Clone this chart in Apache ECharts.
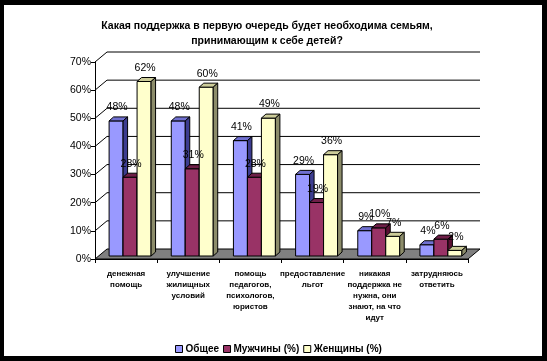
<!DOCTYPE html>
<html><head><meta charset="utf-8">
<script src="https://cdn.jsdelivr.net/npm/echarts@6/dist/echarts.min.js"></script>
<style>html,body{margin:0;padding:0;background:#000;}#c{width:547px;height:361px;}</style>
</head><body><div id="c"></div>
<script>
var categories = ['денежная\nпомощь','улучшение\nжилищных\nусловий','помощь\nпедагогов,\nпсихологов,\nюристов','предоставление\nльгот','никакая\nподдержка не\nнужна, они\nзнают, на что\nидут','затрудняюсь\nответить'];
var seriesNames = ['Общее','Мужчины (%)','Женщины (%)'];
var general = [48,48,41,29,9,4];
var men = [28,31,28,19,10,6];
var women = [62,60,49,36,7,2];
var yTicks = [0,10,20,30,40,50,60,70];

var FONT = "'Liberation Sans',Arial,sans-serif";
var faces = [
  {front:'#9999FF', top:'#7070D0', side:'#3C3C90'},
  {front:'#993366', top:'#6E1F48', side:'#5A1033'},
  {front:'#FFFFCC', top:'#CCCC99', side:'#8C8C6A'}
];
var WX = 12, WY = -10;      // wall depth
var BX = 4.5, BY = -4;      // bar depth
var SX = 4, SY = -3;        // bar plane shift

function barRender(si){
  return function(params, api){
    var cat = api.value(0), v = api.value(1);
    var base = api.coord([cat, 0]);
    var top = api.coord([cat, v]);
    var cw = api.size([1, 0])[0];
    var bw = cw * 0.225;
    var l = base[0] - 1.5 * bw + si * bw + SX;
    var y0 = base[1] + SY, y1 = top[1] + SY;
    var f = faces[si];
    var st = {stroke:'#000', lineWidth:1};
    return {type:'group', children:[
      {type:'rect', shape:{x:l, y:y1, width:bw, height:y0 - y1}, style:Object.assign({fill:f.front}, st)},
      {type:'polygon', shape:{points:[[l,y1],[l+BX,y1+BY],[l+bw+BX,y1+BY],[l+bw,y1]]}, style:Object.assign({fill:f.top}, st)},
      {type:'polygon', shape:{points:[[l+bw,y1],[l+bw+BX,y1+BY],[l+bw+BX,y0+BY],[l+bw,y0]]}, style:Object.assign({fill:f.side}, st)},
      {type:'text', z2:100, style:{text:v + '%', x:l + bw/2 + 1, y:y1 + BY - 4, align:'center', verticalAlign:'bottom', font:'10.5px ' + FONT, fill:'#000'}}
    ]};
  };
}

function wallRender(params, api){
  var cs = params.coordSys;
  var v = api.value(0);
  var y = api.coord([0, v])[1];
  var x0 = cs.x, x1 = cs.x + cs.width;
  if (v === 0) {
    return {type:'polygon', shape:{points:[[x0,y],[x0+WX,y+WY],[x1+WX,y+WY],[x1,y]]}, style:{fill:'#808080', stroke:'#000', lineWidth:1}};
  }
  return {type:'polyline', shape:{points:[[x0,y],[x0+WX,y+WY],[x1+WX,y+WY]]}, style:{fill:null, stroke:'#000', lineWidth:1}};
}

var series = [{
  type:'custom', name:'wall', z:1, renderItem:wallRender, data:yTicks.map(function(t){return [t];}),
  encode:{y:0}, silent:true
}];
[general, men, women].forEach(function(arr, si){
  series.push({type:'custom', name:seriesNames[si], z:2, itemStyle:{color:faces[si].front},
    renderItem:barRender(si), data:arr.map(function(v,i){return [i,v];}), encode:{x:0,y:1}});
});

var chart = echarts.init(document.getElementById('c'), null, {renderer:'canvas'});
chart.setOption({
  backgroundColor:'#000',
  animation:false,
  graphic:[{type:'rect', z:-100, shape:{x:4, y:5, width:538, height:351}, style:{fill:'#fff'}}],
  title:{text:'Какая поддержка в первую очередь будет необходима семьям,\nпринимающим к себе детей?', left:262, top:14, textAlign:'center',
    textStyle:{fontSize:10.5, fontWeight:'bold', fontFamily:FONT, lineHeight:15, color:'#000'}},
  legend:{data:seriesNames, left:170, top:339, icon:'rect', itemWidth:7, itemHeight:7, itemGap:4,
    itemStyle:{borderColor:'#000', borderWidth:1},
    textStyle:{fontSize:10, fontWeight:'bold', fontFamily:FONT, color:'#000', padding:[0,0,0,-2]}},
  grid:{left:95, right:79, top:62, bottom:102, containLabel:false},
  xAxis:{type:'category', data:categories, boundaryGap:true,
    axisLine:{lineStyle:{color:'#000'}}, axisTick:{show:true, length:4, lineStyle:{color:'#000'}},
    splitLine:{show:false},
    axisLabel:{interval:0, fontSize:8, fontWeight:'bold', fontFamily:FONT, lineHeight:11, margin:9, color:'#000'}},
  yAxis:{type:'value', min:0, max:70, interval:10,
    axisLine:{show:true, lineStyle:{color:'#000'}}, axisTick:{show:true, length:4, lineStyle:{color:'#000'}},
    splitLine:{show:false},
    axisLabel:{formatter:'{value}%', fontSize:10.5, fontFamily:FONT, color:'#000', margin:4}},
  series:series
});
</script></body></html>
